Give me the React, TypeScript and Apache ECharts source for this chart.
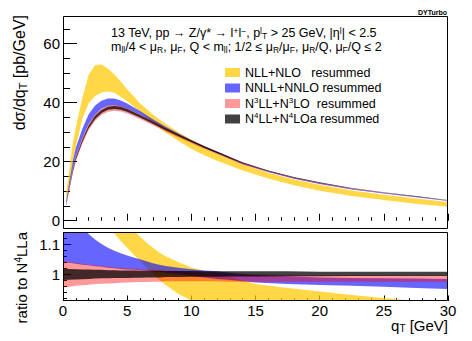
import React, { useEffect, useRef } from "react";
import * as echarts from "echarts";

const FONT = '"Liberation Sans", Arial, Helvetica, sans-serif';

// ---------- main panel (dσ/dqT, pb/GeV) ----------
const qTMain = [0.25, 0.5, 0.75, 1, 1.5, 2, 2.5, 3, 3.5, 4, 4.5, 5, 6, 7, 8, 9, 10, 11, 12, 14, 16, 18, 20, 22.5, 25, 27.5, 30];

const nllLo = [6.2, 12.0, 19.5, 25.0, 34.5, 39.8, 42.3, 43.5, 43.8, 43.4, 42.0, 40.5, 37.0, 33.2, 29.9, 27.0, 24.4, 22.2, 20.3, 17.0, 14.3, 12.0, 10.2, 8.4, 7.0, 5.8, 4.7];
const nllHi = [9.5, 17.5, 26.0, 31.5, 41.5, 49.5, 52.8, 53.0, 51.6, 49.6, 47.2, 44.6, 39.8, 36.0, 32.8, 30.0, 27.5, 25.3, 23.3, 19.2, 16.26, 13.98, 12.16, 10.25, 8.85, 7.57, 6.33];

const nnllLo = [5.51, 11.42, 17.09, 21.74, 27.86, 32.75, 35.95, 37.93, 38.94, 39.17, 38.79, 38.0, 35.93, 33.53, 31.16, 28.9, 26.77, 24.75, 22.88, 19.19, 16.48, 14.27, 12.49, 10.6, 9.22, 7.93, 6.66];
const nnllHi = [6.63, 13.42, 19.8, 24.78, 31.1, 36.09, 39.03, 40.7, 41.45, 41.4, 40.77, 39.72, 37.17, 34.43, 31.87, 29.54, 27.36, 25.33, 23.43, 19.6, 16.83, 14.6, 12.77, 10.87, 9.48, 8.18, 6.9];

const n3llLo = [5.07, 10.55, 15.86, 20.2, 26.03, 30.72, 33.88, 35.85, 36.96, 37.29, 37.03, 36.39, 34.52, 32.4, 30.29, 28.24, 26.28, 24.43, 22.67, 19.13, 16.49, 14.35, 12.59, 10.74, 9.37, 8.1, 6.83];
const n3llHi = [5.53, 11.45, 17.16, 21.8, 27.95, 32.82, 36.05, 38.0, 39.05, 39.28, 38.94, 38.15, 36.04, 33.7, 31.4, 29.22, 27.12, 25.15, 23.32, 19.64, 16.9, 14.69, 12.87, 10.98, 9.57, 8.28, 6.98];

const n4llLo = [5.2, 10.8, 16.2, 20.65, 26.6, 31.35, 34.5, 36.5, 37.6, 37.9, 37.6, 36.95, 35.0, 32.85, 30.7, 28.6, 26.65, 24.78, 23.0, 19.45, 16.77, 14.6, 12.81, 10.93, 9.54, 8.25, 6.96];
const n4llHi = [5.4, 11.2, 16.8, 21.35, 27.4, 32.3, 35.55, 37.55, 38.65, 38.9, 38.6, 37.88, 35.85, 33.6, 31.35, 29.22, 27.2, 25.27, 23.45, 19.8, 17.06, 14.84, 13.03, 11.1, 9.69, 8.38, 7.06];

// ---------- ratio panel (ratio to N4LLa) ----------
const qTRatio = [0, 0.5, 1, 1.5, 2, 2.5, 3, 3.5, 4, 4.5, 5, 5.5, 6, 6.5, 7, 7.5, 8, 9, 10, 11, 12, 13, 14, 15, 17.5, 20, 22.5, 25, 27.5, 30];

const rNllLo = [1.9, 1.7, 1.5, 1.38, 1.3, 1.23, 1.18, 1.155, 1.135, 1.11, 1.088, 1.066, 1.045, 1.022, 1.0, 0.982, 0.965, 0.935, 0.913, 0.895, 0.878, 0.865, 0.855, 0.845, 0.82, 0.79, 0.77, 0.74, 0.71, 0.68];
const rNllHi = [2.1, 2.0, 1.9, 1.75, 1.6, 1.5, 1.43, 1.36, 1.29, 1.23, 1.19, 1.145, 1.125, 1.105, 1.088, 1.072, 1.06, 1.04, 1.023, 1.012, 1.004, 0.995, 0.98, 0.968, 0.955, 0.943, 0.932, 0.922, 0.912, 0.904];

const rNnllLo = [1.04, 1.038, 1.035, 1.032, 1.03, 1.027, 1.025, 1.022, 1.02, 1.018, 1.016, 1.015, 1.014, 1.012, 1.01, 1.008, 1.005, 1.0, 0.995, 0.99, 0.985, 0.981, 0.977, 0.973, 0.968, 0.965, 0.962, 0.959, 0.955, 0.952];
const rNnllHi = [1.35, 1.27, 1.21, 1.16, 1.133, 1.115, 1.1, 1.088, 1.078, 1.07, 1.062, 1.056, 1.05, 1.043, 1.037, 1.032, 1.028, 1.022, 1.017, 1.013, 1.01, 1.005, 1.0, 0.998, 0.994, 0.99, 0.988, 0.987, 0.986, 0.985];

const rN3llLo = [0.957, 0.959, 0.962, 0.964, 0.966, 0.968, 0.969, 0.97, 0.971, 0.972, 0.973, 0.974, 0.975, 0.975, 0.976, 0.976, 0.977, 0.977, 0.977, 0.977, 0.977, 0.976, 0.976, 0.976, 0.976, 0.976, 0.976, 0.976, 0.976, 0.976];
const rN3llHi = [1.045, 1.041, 1.038, 1.035, 1.032, 1.03, 1.027, 1.025, 1.023, 1.022, 1.02, 1.019, 1.018, 1.016, 1.015, 1.014, 1.013, 1.011, 1.008, 1.006, 1.005, 1.003, 1.002, 1.0, 0.999, 0.998, 0.998, 0.997, 0.997, 0.997];

const rN4llLo = [0.981, 0.982, 0.983, 0.984, 0.985, 0.986, 0.987, 0.987, 0.988, 0.988, 0.988, 0.989, 0.989, 0.99, 0.99, 0.99, 0.991, 0.991, 0.992, 0.992, 0.992, 0.993, 0.993, 0.993, 0.994, 0.994, 0.995, 0.995, 0.995, 0.995];
const rN4llHi = [1.019, 1.018, 1.017, 1.016, 1.016, 1.015, 1.015, 1.014, 1.014, 1.013, 1.013, 1.013, 1.012, 1.012, 1.012, 1.012, 1.011, 1.011, 1.011, 1.01, 1.01, 1.01, 1.01, 1.01, 1.01, 1.009, 1.009, 1.009, 1.009, 1.009];

// ---------- ticks & labels ----------
const mainYMajor = [0, 20, 40, 60];
const mainYMinor = [5, 10, 15, 25, 30, 35, 45, 50, 55, 65];
const ratioYMajor = [1, 1.1];
const ratioYMinor = [0.92, 0.94, 0.96, 0.98, 1.02, 1.04, 1.06, 1.08, 1.12, 1.14];

const seriesNames = ["NLL+NLO   resummed", "NNLL+NNLO resummed", "N3LL+N3LO  resummed", "N4LL+N4LOa resummed"];
const legendRich: Record<string, string> = {
  "NLL+NLO   resummed": "NLL+NLO   resummed",
  "NNLL+NNLO resummed": "NNLL+NNLO resummed",
  "N3LL+N3LO  resummed": "N{sup|3}LL+N{sup|3}LO  resummed",
  "N4LL+N4LOa resummed": "N{sup|4}LL+N{sup|4}LOa resummed",
};
const colors = ["rgba(255,200,0,0.72)", "rgba(0,0,255,0.6)", "rgba(255,0,0,0.4)", "rgba(0,0,0,0.74)"];

function band(name: string, xs: number[], lo: number[], hi: number[], color: string, xi: number, yi: number) {
  return {
    type: "custom",
    name,
    xAxisIndex: xi,
    yAxisIndex: yi,
    clip: true,
    silent: true,
    itemStyle: { color },
    data: xs.map((x, i) => [x, lo[i], hi[i]]),
    encode: { x: 0, y: [1, 2] },
    renderItem: (params: any, api: any) => {
      if (params.dataIndex !== 0) return null;
      const pts: number[][] = [];
      for (let i = 0; i < xs.length; i++) pts.push(api.coord([xs[i], hi[i]]));
      for (let i = xs.length - 1; i >= 0; i--) pts.push(api.coord([xs[i], lo[i]]));
      return { type: "polygon", shape: { points: pts }, style: { fill: color, stroke: null } };
    },
  };
}

const tickCol = { color: "#000", width: 1 };
const subsup = {
  sup: { fontSize: 8.5, lineHeight: 7, verticalAlign: "top", fontFamily: FONT, fill: "#000" },
  sub: { fontSize: 8.5, lineHeight: 7, verticalAlign: "bottom", fontFamily: FONT, fill: "#000" },
};

function buildOption() {
  const mainBands = [
    [nllLo, nllHi],
    [nnllLo, nnllHi],
    [n3llLo, n3llHi],
    [n4llLo, n4llHi],
  ];
  const ratioBands = [
    [rNllLo, rNllHi],
    [rNnllLo, rNnllHi],
    [rN3llLo, rN3llHi],
    [rN4llLo, rN4llHi],
  ];
  const series: any[] = [];
  mainBands.forEach((b, k) => series.push(band(seriesNames[k], qTMain, b[0], b[1], colors[k], 0, 0)));
  ratioBands.forEach((b, k) => series.push(band(seriesNames[k], qTRatio, b[0], b[1], colors[k], 1, 2)));

  const yCommon = {
    type: "value",
    position: "left",
    axisLine: { show: false },
    splitLine: { show: false },
  };

  return {
    animation: false,
    backgroundColor: "#fff",
    textStyle: { fontFamily: FONT },
    grid: [
      { left: 63, top: 16, width: 385, height: 213 },
      { left: 63, top: 232, width: 385, height: 69 },
    ],
    xAxis: [
      {
        type: "value", gridIndex: 0, min: 0, max: 30, interval: 5,
        axisLine: { show: false }, splitLine: { show: false },
        axisTick: { inside: true, length: 7, lineStyle: tickCol },
        minorTick: { show: true, splitNumber: 5, length: 3.5, lineStyle: tickCol },
        axisLabel: { show: false },
      },
      {
        type: "value", gridIndex: 1, min: 0, max: 30, interval: 5,
        axisLine: { show: false }, splitLine: { show: false },
        axisTick: { inside: true, length: 5.5, lineStyle: tickCol },
        minorTick: { show: true, splitNumber: 5, length: 2.8, lineStyle: tickCol },
        axisLabel: { fontSize: 15, color: "#000", margin: 2, showMinLabel: true, showMaxLabel: true, fontFamily: FONT },
      },
    ],
    yAxis: [
      {
        ...yCommon, gridIndex: 0, min: -2.8, max: 69.4,
        axisTick: { inside: true, length: 14, lineStyle: tickCol, customValues: mainYMajor },
        axisLabel: { fontSize: 15, color: "#000", margin: 3, customValues: mainYMajor, fontFamily: FONT },
      },
      {
        ...yCommon, gridIndex: 0, min: -2.8, max: 69.4,
        axisTick: { inside: true, length: 7, lineStyle: tickCol, customValues: mainYMinor },
        axisLabel: { show: false },
      },
      {
        ...yCommon, gridIndex: 1, min: 0.912, max: 1.14,
        axisTick: { inside: true, length: 8, lineStyle: tickCol, customValues: ratioYMajor },
        axisLabel: { fontSize: 15, color: "#000", margin: 3, customValues: ratioYMajor, fontFamily: FONT },
      },
      {
        ...yCommon, gridIndex: 1, min: 0.912, max: 1.14,
        axisTick: { inside: true, length: 4, lineStyle: tickCol, customValues: ratioYMinor },
        axisLabel: { show: false },
      },
    ],
    legend: {
      left: 225, top: 65, orient: "vertical", padding: 0, itemGap: 0.5,
      itemWidth: 15, itemHeight: 9, icon: "rect", selectedMode: false,
      data: seriesNames,
      formatter: (n: string) => legendRich[n] || n,
      textStyle: {
        fontSize: 12.5, color: "#000", lineHeight: 15, fontFamily: FONT,
        rich: { sup: { fontSize: 8, lineHeight: 8, verticalAlign: "top", fontFamily: FONT, color: "#000" } },
      },
    },
    graphic: {
      elements: [
        { type: "rect", z: 100, silent: true, shape: { x: 63.5, y: 16.5, width: 384, height: 212 }, style: { fill: "none", stroke: "#000", lineWidth: 1 } },
        { type: "rect", z: 100, silent: true, shape: { x: 63.5, y: 232.5, width: 384, height: 68 }, style: { fill: "none", stroke: "#000", lineWidth: 1 } },
        {
          type: "text", x: 447, y: 12, z: 100,
          style: { text: "DYTurbo", fontSize: 7, fontWeight: "bold", fontFamily: FONT, fill: "#000", align: "right", verticalAlign: "middle" },
        },
        {
          type: "text", x: 111, y: 26, z: 100,
          style: {
            text: "13 TeV, pp → Z/γ* → l{sup|+}l{sup|−}, p{sup|l}{sub|T} > 25 GeV, |η{sup|l}| < 2.5",
            fontSize: 12.5, fontFamily: FONT, fill: "#000", lineHeight: 14, align: "left", verticalAlign: "top", rich: subsup,
          },
        },
        {
          type: "text", x: 111, y: 40, z: 100,
          style: {
            text: "m{sub|ll}/4 < μ{sub|R}, μ{sub|F}, Q < m{sub|ll}; 1/2 ≤ μ{sub|R}/μ{sub|F}, μ{sub|R}/Q, μ{sub|F}/Q ≤ 2",
            fontSize: 12.5, fontFamily: FONT, fill: "#000", lineHeight: 14, align: "left", verticalAlign: "top", rich: subsup,
          },
        },
        {
          type: "text", x: 19.5, y: 15, rotation: Math.PI / 2, z: 100,
          style: {
            text: "dσ/dq{sub|T} [pb/GeV]", fontSize: 16, fontFamily: FONT, fill: "#000", lineHeight: 18,
            align: "right", verticalAlign: "middle",
            rich: { sub: { fontSize: 11, lineHeight: 9, verticalAlign: "bottom", fontFamily: FONT, fill: "#000" } },
          },
        },
        {
          type: "text", x: 21.5, y: 232, rotation: Math.PI / 2, z: 100,
          style: {
            text: "ratio to N{sup|4}LLa", fontSize: 15, fontFamily: FONT, fill: "#000", lineHeight: 17,
            align: "right", verticalAlign: "middle",
            rich: { sup: { fontSize: 10, lineHeight: 9, verticalAlign: "top", fontFamily: FONT, fill: "#000" } },
          },
        },
        {
          type: "text", x: 448, y: 325, z: 100,
          style: {
            text: "q{sub|T} [GeV]", fontSize: 15, fontFamily: FONT, fill: "#000", lineHeight: 17,
            align: "right", verticalAlign: "middle",
            rich: { sub: { fontSize: 10, lineHeight: 9, verticalAlign: "bottom", fontFamily: FONT, fill: "#000" } },
          },
        },
      ],
    },
    series,
  };
}

export default function App() {
  const ref = useRef<HTMLDivElement>(null);
  useEffect(() => {
    const chart = echarts.init(ref.current as HTMLDivElement, null, { renderer: "svg" });
    chart.setOption(buildOption() as any);
    return () => chart.dispose();
  }, []);
  return (
    <div
      ref={ref}
      style={{ position: "absolute", left: 0, top: 0, width: 472, height: 341, background: "#fff" }}
    />
  );
}
